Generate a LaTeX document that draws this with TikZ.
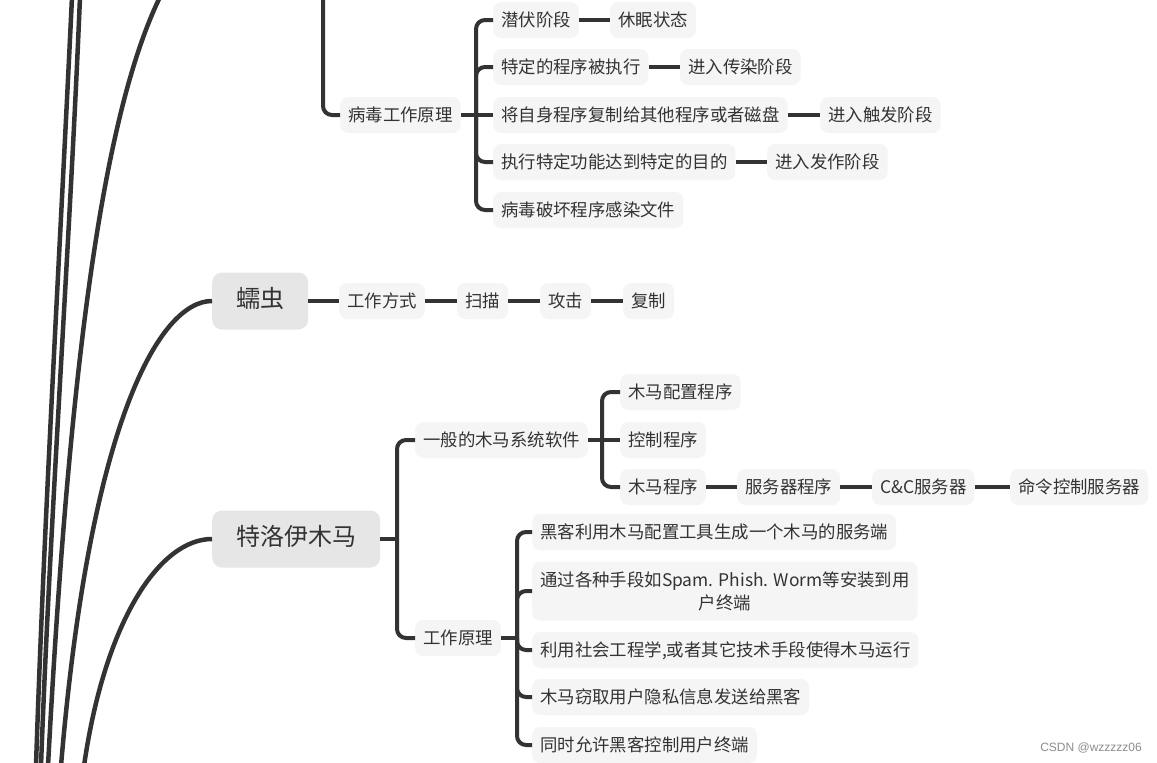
\documentclass[tikz,border=0pt]{standalone}
\usepackage{fontspec}
\setmainfont{Noto Sans CJK SC}
\newfontfamily\wmfont{Liberation Sans}
\definecolor{linec}{HTML}{333333}
\definecolor{txt}{HTML}{333333}
\definecolor{leafbg}{HTML}{F5F5F5}
\definecolor{topicbg}{HTML}{E6E6E6}
\definecolor{wmc}{HTML}{8C8C8C}
\begin{document}
\begin{tikzpicture}[x=1pt,y=-1pt,
  leaf/.style={fill=leafbg, rounded corners=8pt, anchor=west, inner xsep=8pt, inner ysep=0pt,
    minimum height=36pt, text=txt, font=\fontsize{17.4}{21}\selectfont, text height=1.28em, text depth=0em},
  leaftwo/.style={fill=leafbg, rounded corners=8pt, anchor=west, inner xsep=8pt, inner ysep=0pt,
    minimum height=59pt, text=txt, align=center, font=\fontsize{17.4}{23}\selectfont},
  topic/.style={fill=topicbg, rounded corners=10pt, anchor=west, inner xsep=24pt, inner ysep=0pt,
    minimum height=57pt, text=txt, font=\fontsize{24}{28}\selectfont, text height=1.3em, text depth=0em},
  conn/.style={draw=linec, line width=4pt},
  branch/.style={draw=linec, line width=4pt, rounded corners=9pt},
  trunk/.style={draw=linec, line width=4.5pt},
]
\useasboundingbox (0,0) rectangle (1157,763);
\fill[white] (0,0) rectangle (1157,763);

% ---------- nodes ----------
% virus working principle
\node[leaf] (bdgl) at (340,115) {病毒工作原理};
\node[leaf] (qf)   at (493,20)  {潜伏阶段};
\node[leaf] (tdcx) at (493,67)  {特定的程序被执行};
\node[leaf] (jzs)  at (493,115) {将自身程序复制给其他程序或者磁盘};
\node[leaf] (zxtd) at (493,162) {执行特定功能达到特定的目的};
\node[leaf] (bdph) at (493,210) {病毒破坏程序感染文件};
\node[leaf] (xm)   at (610,20)  {休眠状态};
\node[leaf] (crcr) at (680,67)  {进入传染阶段};
\node[leaf] (crcf) at (820,115) {进入触发阶段};
\node[leaf] (crfz) at (767,162) {进入发作阶段};

% worm
\node[topic] (rc)   at (212,301) {蠕虫};
\node[leaf]  (gzfs) at (339,301) {工作方式};
\node[leaf]  (sm)   at (457,301) {扫描};
\node[leaf]  (gj)   at (540,301) {攻击};
\node[leaf]  (fz)   at (623,301) {复制};

% trojan
\node[topic] (tlymm) at (212,539) {特洛伊木马};
\node[leaf] (ybd)  at (415,440) {一般的木马系统软件};
\node[leaf] (gzyl) at (415,638) {工作原理};
\node[leaf] (mmpz) at (620,392) {木马配置程序};
\node[leaf] (kz)   at (620,440) {控制程序};
\node[leaf] (mmcx) at (620,487) {木马程序};
\node[leaf] (fwq)  at (737,487) {服务器程序};
\node[leaf] (cc)   at (872,487) {C\&C服务器};
\node[leaf] (mlkz) at (1010,487) {命令控制服务器};
\node[leaf] (hk)   at (532,532) {黑客利用木马配置工具生成一个木马的服务端};
\node[leaftwo] (tg) at (532,591) {通过各种手段如Spam. Phish. Worm等安装到用\\户终端};
\node[leaf] (ly)   at (532,650) {利用社会工程学,或者其它技术手段使得木马运行};
\node[leaf] (mmqq) at (532,697) {木马窃取用户隐私信息发送给黑客};
\node[leaf] (ts)   at (532,745) {同时允许黑客控制用户终端};

\node[anchor=east, text=wmc, font=\wmfont\fontsize{12}{14}\selectfont, inner sep=0pt] (wm) at (1142,748) {CSDN @wzzzzz06};

% ---------- trunk curves from the (off-picture) root ----------
\coordinate (t1a) at (72,-3);   \coordinate (t1b) at (36,766);
\coordinate (t2a) at (80,-3);   \coordinate (t2b) at (41,766);
\coordinate (t3a) at (160,-3);  \coordinate (t3b) at (48,766);
\coordinate (t4b) at (61,766);
\coordinate (t5b) at (84,766);
\begin{scope}
\clip (0,0) rectangle (1157,763);
\draw[trunk] (t1a) .. controls (60,250) and (44,520) .. (t1b);
\draw[trunk] (t2a) .. controls (70,240) and (50,520) .. (t2b);
\draw[trunk] (t3a) .. controls (105,110) and (70,350) .. (t3b);
\draw[trunk] (rc.west) .. controls (160,301) and (90,420) .. (t4b);
\draw[trunk] (tlymm.west) .. controls (160,539) and (105,620) .. (t5b);
\end{scope}

% ---------- virus branch ----------
\coordinate (vtop) at (323,-5);
\draw[branch] (vtop) |- (bdgl.west);
\coordinate (s1) at (476,115);
\draw[conn] (bdgl.east) -- (jzs.west);
\draw[branch] (s1) |- (qf.west);
\draw[branch] (s1) |- (tdcx.west);
\draw[branch] (s1) |- (zxtd.west);
\draw[branch] (s1) |- (bdph.west);
\draw[conn] (qf.east) -- (xm.west);
\draw[conn] (tdcx.east) -- (crcr.west);
\draw[conn] (jzs.east) -- (crcf.west);
\draw[conn] (zxtd.east) -- (crfz.west);

% ---------- worm branch ----------
\draw[conn] (rc.east) -- (gzfs.west);
\draw[conn] (gzfs.east) -- (sm.west);
\draw[conn] (sm.east) -- (gj.west);
\draw[conn] (gj.east) -- (fz.west);

% ---------- trojan branch ----------
\coordinate (s2) at (397,539);
\draw[conn] (tlymm.east) -- (s2);
\draw[branch] (s2) |- (ybd.west);
\draw[branch] (s2) |- (gzyl.west);
\coordinate (s3) at (602,440);
\draw[conn] (ybd.east) -- (kz.west);
\draw[branch] (s3) |- (mmpz.west);
\draw[branch] (s3) |- (mmcx.west);
\draw[conn] (mmcx.east) -- (fwq.west);
\draw[conn] (fwq.east) -- (cc.west);
\draw[conn] (cc.east) -- (mlkz.west);
\coordinate (s4) at (517,638);
\draw[conn] (gzyl.east) -- (s4);
\draw[branch] (s4) |- (hk.west);
\draw[branch] (s4) |- (tg.west);
\draw[branch] (s4) |- (ly.west);
\draw[branch] (s4) |- (mmqq.west);
\draw[branch] (s4) |- (ts.west);
\end{tikzpicture}
\end{document}
